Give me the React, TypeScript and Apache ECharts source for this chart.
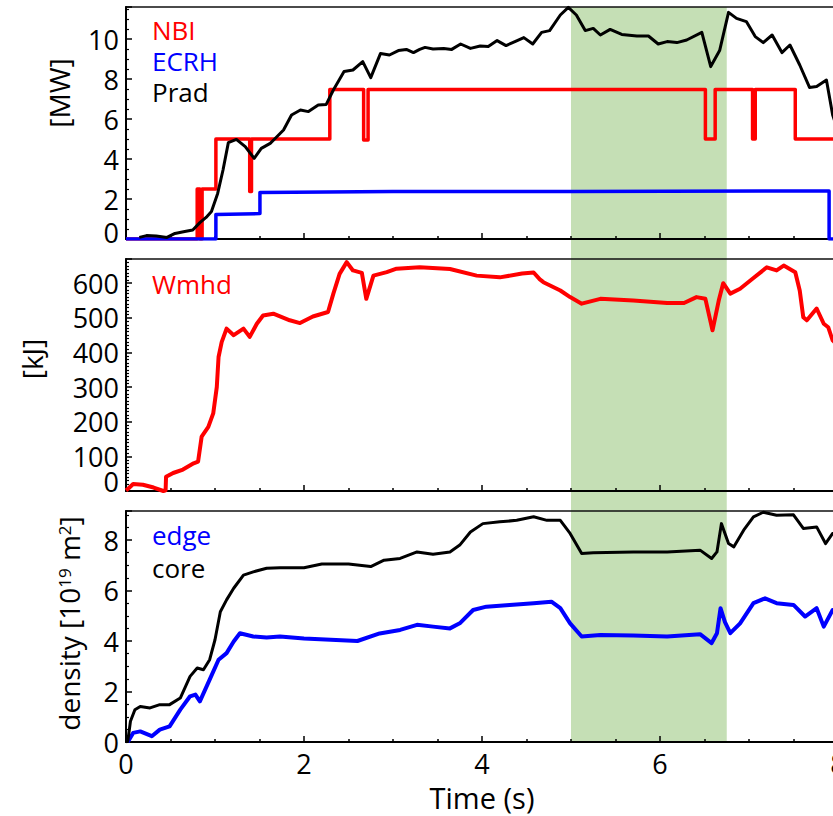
import { useEffect, useRef } from 'react';
import * as echarts from 'echarts';

// ---- data (time in s) ----
const nbi: [number, number][] = [
  [0, 0], [0.8, 0], [0.8, 2.5], [0.83, 2.5], [0.83, 0], [0.855, 0], [0.855, 2.5], [1.01, 2.5], [1.01, 5.0],
  [1.39, 5.0], [1.39, 2.37], [1.41, 2.37], [1.41, 5.0], [2.29, 5.0], [2.29, 7.48], [2.67, 7.48], [2.67, 4.95],
  [2.72, 4.95], [2.72, 7.48], [6.51, 7.48], [6.51, 5.0], [6.62, 5.0], [6.62, 7.48], [7.04, 7.48], [7.04, 5.0],
  [7.07, 5.0], [7.07, 7.48], [7.52, 7.48], [7.52, 5.0], [8, 5.0],
];
const ecrh: [number, number][] = [
  [0, 0], [1.01, 0], [1.01, 1.22], [1.505, 1.27], [1.505, 2.32], [3.0, 2.38], [5.0, 2.38], [7.9, 2.4], [7.9, 0], [8, 0],
];
const prad: [number, number][] = [
  [0.15, 0.08], [0.23, 0.17], [0.34, 0.15], [0.46, 0.08], [0.55, 0.28], [0.66, 0.37], [0.75, 0.45], [0.83, 0.82],
  [0.9, 1.08], [0.96, 1.37], [1.03, 2.28], [1.09, 3.45], [1.15, 4.82], [1.24, 4.98], [1.34, 4.62], [1.44, 4.03],
  [1.52, 4.53], [1.62, 4.78], [1.67, 5.0], [1.77, 5.45], [1.86, 6.2], [1.96, 6.45], [2.05, 6.37], [2.16, 6.7],
  [2.25, 6.73], [2.33, 7.45], [2.45, 8.37], [2.55, 8.45], [2.66, 8.87], [2.75, 8.07], [2.86, 9.28], [2.96, 9.2],
  [3.06, 9.42], [3.15, 9.48], [3.23, 9.32], [3.3, 9.48], [3.36, 9.58], [3.45, 9.5], [3.57, 9.53], [3.66, 9.48],
  [3.76, 9.75], [3.87, 9.53], [3.98, 9.65], [4.07, 9.62], [4.17, 9.92], [4.27, 9.67], [4.37, 9.87], [4.47, 10.07],
  [4.57, 9.75], [4.67, 10.33], [4.76, 10.42], [4.88, 11.2], [4.97, 11.58], [5.06, 11.2], [5.16, 10.42], [5.25, 10.53],
  [5.33, 10.2], [5.44, 10.48], [5.57, 10.23], [5.74, 10.15], [5.87, 10.15], [5.98, 9.75], [6.08, 9.87], [6.19, 9.82],
  [6.3, 9.95], [6.47, 10.33], [6.57, 8.62], [6.67, 9.42], [6.77, 11.33], [6.86, 11.03], [6.97, 10.87], [7.07, 10.12],
  [7.16, 9.82], [7.26, 10.2], [7.37, 9.32], [7.46, 9.7], [7.57, 8.7], [7.68, 7.58], [7.76, 7.62], [7.87, 7.95],
  [7.94, 6.2], [8.0, 5.4],
];
const wmhd: [number, number][] = [
  [0.0, 2], [0.03, 8], [0.08, 20], [0.19, 18], [0.31, 10], [0.42, 0], [0.445, 2], [0.45, 41], [0.53, 52], [0.64, 62],
  [0.76, 80], [0.81, 85], [0.85, 157], [0.925, 185], [0.98, 224], [1.02, 300], [1.04, 387], [1.075, 430], [1.13, 469],
  [1.21, 450], [1.32, 469], [1.39, 445], [1.47, 483], [1.54, 507], [1.655, 512], [1.84, 493], [1.955, 485], [2.1, 504],
  [2.27, 517], [2.33, 570], [2.4, 627], [2.48, 661], [2.55, 637], [2.65, 630], [2.7, 555], [2.78, 622], [2.93, 632],
  [3.04, 642], [3.3, 646], [3.64, 641], [3.94, 622], [4.2, 617], [4.45, 628], [4.58, 631], [4.65, 611], [4.69, 603],
  [4.88, 579], [4.99, 560], [5.12, 541], [5.33, 555], [5.7, 550], [6.08, 543], [6.27, 543], [6.41, 560], [6.51, 555],
  [6.59, 464], [6.66, 550], [6.71, 600], [6.79, 570], [6.9, 584], [7.05, 615], [7.2, 646], [7.31, 637], [7.39, 651],
  [7.52, 632], [7.57, 579], [7.61, 502], [7.65, 493], [7.76, 527], [7.84, 483], [7.89, 473], [7.94, 435], [8.0, 420],
];
const densityEdge: [number, number][] = [
  [0.02, 0], [0.08, 0.36], [0.16, 0.42], [0.29, 0.23], [0.38, 0.49], [0.49, 0.62], [0.61, 1.28], [0.72, 1.81],
  [0.78, 1.88], [0.83, 1.61], [0.94, 2.47], [1.04, 3.26], [1.13, 3.52], [1.21, 3.98], [1.28, 4.31], [1.43, 4.18],
  [1.58, 4.14], [1.73, 4.18], [2.0, 4.1], [2.3, 4.05], [2.6, 4.0], [2.85, 4.3], [3.08, 4.44], [3.27, 4.64],
  [3.45, 4.57], [3.64, 4.5], [3.75, 4.7], [3.9, 5.23], [4.05, 5.36], [4.31, 5.43], [4.58, 5.5], [4.78, 5.56],
  [4.88, 5.3], [4.99, 4.7], [5.12, 4.18], [5.33, 4.24], [5.7, 4.22], [6.08, 4.18], [6.45, 4.27], [6.58, 3.92],
  [6.64, 4.31], [6.68, 5.3], [6.73, 4.75], [6.79, 4.31], [6.9, 4.7], [7.05, 5.5], [7.18, 5.69], [7.31, 5.5],
  [7.5, 5.43], [7.63, 4.97], [7.76, 5.3], [7.84, 4.57], [7.94, 5.23], [8.0, 5.2],
];
const densityCore: [number, number][] = [
  [0.0, 0], [0.02, 0.03], [0.05, 0.82], [0.1, 1.28], [0.16, 1.41], [0.27, 1.35], [0.38, 1.48], [0.49, 1.48],
  [0.61, 1.74], [0.72, 2.6], [0.8, 2.93], [0.87, 2.86], [0.94, 3.26], [1.0, 4.05], [1.06, 5.16], [1.13, 5.63],
  [1.21, 6.09], [1.32, 6.61], [1.43, 6.74], [1.58, 6.88], [1.73, 6.9], [2.0, 6.9], [2.2, 7.05], [2.5, 7.05],
  [2.75, 6.95], [2.9, 7.2], [3.08, 7.27], [3.27, 7.53], [3.45, 7.44], [3.64, 7.53], [3.75, 7.8], [3.87, 8.32],
  [4.01, 8.65], [4.2, 8.72], [4.39, 8.78], [4.58, 8.92], [4.73, 8.78], [4.88, 8.78], [4.99, 8.26], [5.12, 7.47],
  [5.25, 7.5], [5.7, 7.53], [6.08, 7.53], [6.45, 7.6], [6.58, 7.27], [6.64, 7.53], [6.69, 8.65], [6.77, 7.86],
  [6.83, 7.73], [6.94, 8.39], [7.05, 8.92], [7.16, 9.1], [7.31, 8.98], [7.5, 9.0], [7.61, 8.46], [7.76, 8.52],
  [7.86, 7.86], [7.94, 8.26], [8.0, 8.3],
];
const flatTopWindow = [5.0, 6.75];
const timeRange = [0, 8];
const powerRange = [0, 11.6];
const energyRange = [0, 670];
const densityRange = [0, 9.15];

const FONT = 'Open Sans';
const RED = '#ff0000';
const BLUE = '#0000ff';
const BLACK = '#000000';
const GREEN = '#c5dfb5';

export default function App() {
  const ref = useRef<HTMLDivElement>(null);
  useEffect(() => {
    const chart = echarts.init(ref.current!, null, { renderer: 'svg' });

    const xAxis = (gridIndex: number, showLabels: boolean) => ({
      type: 'value',
      gridIndex,
      min: timeRange[0],
      max: timeRange[1],
      interval: 2,
      axisLine: { show: true, onZero: false, lineStyle: { color: BLACK, width: 2 } },
      axisTick: { show: true, inside: true, length: 6, lineStyle: { color: BLACK, width: 1.5 } },
      minorTick: { show: true, splitNumber: 4, length: 3, lineStyle: { color: BLACK, width: 1.5 } },
      splitLine: { show: false },
      minorSplitLine: { show: false },
      axisLabel: { show: showLabels, fontFamily: FONT, fontSize: 27, color: BLACK, margin: 8, hideOverlap: false },
      ...(showLabels
        ? {
            name: 'Time (s)',
            nameLocation: 'middle',
            nameGap: 41,
            nameMoveOverlap: false,
            nameTextStyle: { fontFamily: FONT, fontSize: 29, color: BLACK },
          }
        : {}),
    });

    const lowRich = (raise: number) => ({
      low: { fontFamily: FONT, fontSize: 27, color: BLACK, lineHeight: 16, padding: [0, 0, raise * 2, 0] },
    });

    // raiseMin: how many px the "0" label sits above its tick (0 = centred on it)
    const yAxis = (
      gridIndex: number,
      range: number[],
      interval: number,
      minorSplit: number,
      name: string,
      nameGap: number,
      shiftUp: number,
      raiseMin: number,
      showMin: boolean,
      rich?: any,
    ) => ({
      type: 'value',
      gridIndex,
      position: 'left',
      min: range[0],
      max: range[1],
      interval,
      axisLine: { show: true, onZero: false, lineStyle: { color: BLACK, width: 2 } },
      axisTick: { show: true, inside: true, length: 6, lineStyle: { color: BLACK, width: 1.5 } },
      minorTick: { show: true, splitNumber: minorSplit, length: 3, lineStyle: { color: BLACK, width: 1.2 } },
      splitLine: { show: false },
      minorSplitLine: { show: false },
      axisLabel: {
        fontFamily: FONT,
        fontSize: 27,
        color: BLACK,
        margin: 7,
        lineHeight: 16,
        showMinLabel: showMin,
        showMaxLabel: false,
        hideOverlap: false,
        formatter: (v: number) => (v === range[0] && raiseMin > 0 ? `{low|${v}}` : String(v)),
        rich: lowRich(raiseMin),
      },
      name,
      nameLocation: 'middle',
      nameGap,
      nameMoveOverlap: false,
      nameTextStyle: {
        fontFamily: FONT,
        fontSize: 28,
        color: BLACK,
        padding: [0, 0, 0, shiftUp * 2],
        ...(rich ? { rich } : {}),
      },
    });

    // label-only axis carrying the lone "0" of the energy panel
    const energyZeroAxis = {
      type: 'value',
      gridIndex: 1,
      position: 'left',
      min: energyRange[0],
      max: energyRange[1],
      interval: energyRange[1] - energyRange[0],
      axisLine: { show: false },
      axisTick: { show: false },
      minorTick: { show: false },
      splitLine: { show: false },
      axisLabel: {
        fontFamily: FONT,
        fontSize: 27,
        color: BLACK,
        margin: 7,
        lineHeight: 16,
        showMinLabel: true,
        showMaxLabel: false,
        formatter: (v: number) => (v === energyRange[0] ? `{low|${v}}` : ''),
        rich: lowRich(10),
      },
    };

    const legend = (top: number, items: { name: string; color: string }[], lineHeight: number) => ({
      left: 147,
      top,
      orient: 'vertical',
      icon: 'none',
      itemWidth: 0,
      itemHeight: 14,
      itemGap: 0,
      padding: 0,
      selectedMode: false,
      textStyle: { fontFamily: FONT, fontSize: 26, lineHeight },
      data: items.map((it) => ({ name: it.name, textStyle: { color: it.color } })),
    });

    const gridBase = {
      left: 126,
      right: -5,
      show: true,
      borderColor: '#111',
      borderWidth: 1.5,
      backgroundColor: 'transparent',
      containLabel: false,
      outerBoundsMode: 'none',
    };

    const line = (name: string, xi: number, data: [number, number][], color: string, width: number) => ({
      name,
      type: 'line',
      xAxisIndex: xi,
      yAxisIndex: xi,
      data,
      showSymbol: false,
      symbol: 'none',
      lineStyle: { color, width, join: 'round' },
      itemStyle: { color },
      z: 3,
    });

    chart.setOption({
      animation: false,
      textStyle: { fontFamily: FONT },
      grid: [
        { ...gridBase, top: 7, height: 232 },
        { ...gridBase, top: 259, height: 232 },
        { ...gridBase, top: 511, height: 231 },
      ],
      xAxis: [xAxis(0, false), xAxis(1, false), xAxis(2, true)],
      yAxis: [
        yAxis(0, powerRange, 2, 4, '[MW]', 53, 30, 7, true),
        yAxis(1, energyRange, 100, 10, '[kJ]', 80, 16, 0, false),
        yAxis(2, densityRange, 2, 4, 'density [10{sup|19} m{sup|2}]', 43, 3, 0, true, {
          sup: { fontFamily: FONT, fontSize: 17, lineHeight: 17, verticalAlign: 'top', color: BLACK, padding: [1, 0, 0, 0] },
        }),
        energyZeroAxis,
      ],
      legend: [
        legend(14, [
          { name: 'NBI', color: RED },
          { name: 'ECRH', color: BLUE },
          { name: 'Prad', color: BLACK },
        ], 31),
        legend(268, [{ name: 'Wmhd', color: RED }], 31),
        legend(518, [
          { name: 'edge', color: BLUE },
          { name: 'core', color: BLACK },
        ], 33),
      ],
      series: [
        line('NBI', 0, nbi, RED, 3.5),
        line('ECRH', 0, ecrh, BLUE, 3.5),
        line('Prad', 0, prad, BLACK, 3),
        line('Wmhd', 1, wmhd, RED, 4),
        line('edge', 2, densityEdge, BLUE, 4),
        line('core', 2, densityCore, BLACK, 3),
      ],
    });

    const x1 = chart.convertToPixel({ xAxisIndex: 0 }, flatTopWindow[0]) as number;
    const x2 = chart.convertToPixel({ xAxisIndex: 0 }, flatTopWindow[1]) as number;
    const y1 = chart.convertToPixel({ yAxisIndex: 0 }, powerRange[1]) as number;
    const y2 = chart.convertToPixel({ yAxisIndex: 2 }, densityRange[0]) as number;
    chart.setOption({
      graphic: [
        {
          type: 'rect',
          silent: true,
          z: -10,
          shape: { x: x1, y: y1, width: x2 - x1, height: y2 - y1 },
          style: { fill: GREEN },
        },
      ],
    });

    return () => chart.dispose();
  }, []);

  return <div ref={ref} style={{ position: 'absolute', left: 0, top: 0, width: 833, height: 816 }} />;
}
